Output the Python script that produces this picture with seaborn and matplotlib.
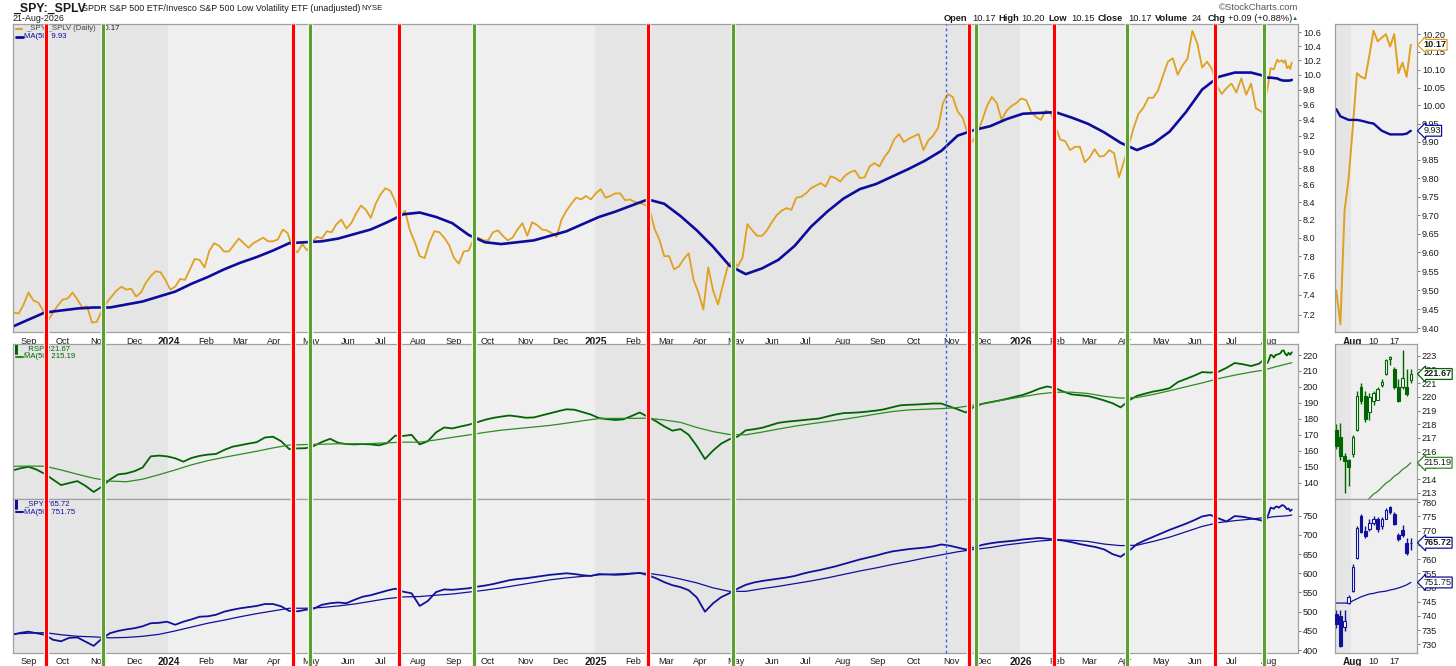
import numpy as np
import pandas as pd
import seaborn as sns
import matplotlib.pyplot as plt
from matplotlib.ticker import FixedLocator, FormatStrFormatter, NullLocator

# ---------------- data ----------------
# SPY:SPLV ratio, read every third trading day up to 22-Jul-2026
ratio_dates = pd.bdate_range("2023-08-21", periods=255, freq="3B")
ratio_3day = [
    7.22, 7.21, 7.30, 7.42, 7.34, 7.32, 7.24, 7.14, 7.22, 7.29,
    7.35, 7.36, 7.42, 7.35, 7.27, 7.28, 7.12, 7.13, 7.24, 7.32,
    7.38, 7.44, 7.48, 7.45, 7.46, 7.38, 7.42, 7.52, 7.59, 7.64,
    7.63, 7.55, 7.45, 7.48, 7.56, 7.55, 7.66, 7.77, 7.76, 7.68,
    7.86, 7.94, 7.91, 7.85, 7.85, 7.92, 7.99, 7.94, 7.89, 7.94,
    7.97, 8.00, 7.96, 7.96, 7.98, 8.09, 8.05, 7.88, 7.84, 7.93,
    7.86, 7.95, 8.01, 7.99, 8.07, 8.06, 8.15, 8.20, 8.10, 8.16,
    8.27, 8.36, 8.31, 8.22, 8.38, 8.49, 8.56, 8.53, 8.41, 8.23,
    8.30, 8.08, 7.95, 7.80, 7.78, 7.95, 8.07, 8.06, 8.00, 7.92,
    7.78, 7.72, 7.85, 7.86, 7.98, 8.00, 7.97, 7.97, 8.06, 8.08,
    8.02, 7.97, 8.00, 8.09, 8.16, 8.02, 8.17, 8.14, 8.09, 8.08,
    8.05, 8.01, 8.20, 8.30, 8.38, 8.45, 8.43, 8.47, 8.43, 8.50,
    8.55, 8.45, 8.47, 8.50, 8.50, 8.42, 8.43, 8.40, 8.39, 8.37,
    8.32, 8.10, 7.98, 7.80, 7.80, 7.66, 7.69, 7.77, 7.83, 7.55,
    7.42, 7.25, 7.68, 7.44, 7.30, 7.50, 7.69, 7.76, 7.69, 7.78,
    8.15, 8.08, 8.02, 8.02, 8.08, 8.17, 8.25, 8.30, 8.33, 8.31,
    8.45, 8.46, 8.50, 8.56, 8.59, 8.62, 8.58, 8.70, 8.68, 8.64,
    8.71, 8.75, 8.77, 8.68, 8.69, 8.82, 8.86, 8.82, 8.93, 9.01,
    9.15, 9.22, 9.12, 9.16, 9.19, 9.22, 9.02, 9.14, 9.20, 9.30,
    9.62, 9.74, 9.70, 9.51, 9.43, 9.24, 9.12, 9.23, 9.39, 9.58,
    9.70, 9.62, 9.40, 9.52, 9.58, 9.62, 9.68, 9.66, 9.51, 9.44,
    9.40, 9.52, 9.50, 9.31, 9.15, 9.13, 9.02, 9.06, 9.06, 8.87,
    8.93, 9.03, 8.94, 8.95, 9.02, 8.98, 8.69, 8.88, 9.08, 9.30,
    9.48, 9.56, 9.69, 9.69, 9.79, 9.99, 10.18, 10.23, 10.00, 10.13,
    10.22, 10.62, 10.44, 10.10, 10.18, 10.08, 9.85, 9.74, 9.82, 9.88,
    9.76, 9.95, 9.73, 9.88, 9.55,
]

# RSP and SPY weekly closes (Fridays) up to 24-Jul-2026
week_dates = pd.date_range("2023-08-18", periods=154, freq="W-FRI")
rsp_weekly = [
    147.6, 149.0, 150.0, 148.2, 145.5, 142.0, 138.5, 139.8, 141.0, 138.0,
    134.2, 137.5, 142.0, 145.2, 145.8, 147.2, 149.5, 156.5, 157.0, 156.5,
    155.3, 153.2, 155.5, 156.8, 157.6, 158.0, 160.5, 162.5, 163.5, 164.5,
    165.4, 168.3, 168.8, 166.0, 161.0, 161.5, 161.6, 163.0, 165.5, 167.5,
    165.0, 164.2, 164.0, 164.2, 164.0, 163.4, 164.8, 169.5, 169.3, 170.0,
    164.0, 166.0, 171.5, 174.6, 174.0, 175.2, 176.3, 177.8, 179.4, 180.6,
    181.4, 182.1, 181.5, 180.7, 180.9, 182.2, 183.5, 184.8, 186.0, 185.7,
    184.2, 182.7, 180.5, 179.8, 179.3, 179.7, 181.8, 184.0, 181.2, 178.5,
    175.3, 172.6, 173.6, 170.0, 163.0, 154.8, 160.2, 164.5, 167.2, 168.9,
    172.8, 173.5, 174.4, 175.9, 177.5, 178.2, 178.7, 179.2, 179.7, 180.2,
    181.5, 182.7, 183.6, 183.8, 184.1, 184.6, 185.2, 186.0, 187.3, 188.5,
    188.8, 189.0, 189.3, 189.6, 189.6, 187.8, 186.0, 184.0, 187.5, 189.4,
    190.4, 191.4, 192.5, 193.8, 195.0, 196.8, 198.9, 200.3, 199.2, 197.0,
    195.3, 194.8, 194.3, 193.0, 191.5, 189.8, 187.2, 191.5, 194.4, 195.8,
    197.1, 198.0, 199.2, 203.0, 205.0, 207.0, 209.3, 209.0, 209.5, 212.0,
    215.0, 214.2, 213.1, 214.6,
]
spy_weekly = [
    440, 445, 448, 444, 440, 427, 423, 432, 433, 422,
    411, 430, 444, 450, 454, 457, 462, 470, 471, 474,
    466, 474, 480, 487, 488, 492, 500, 505, 509, 512,
    515, 520, 520, 514, 502, 501, 505, 508, 518, 522,
    524, 522, 531, 539, 543, 549, 555, 560, 552, 548,
    515, 528, 551, 558, 557, 559, 561, 565, 568, 572,
    577, 582, 585, 587, 590, 593, 596, 598, 600, 598,
    595, 593, 598, 597, 596, 597, 599, 601, 595, 587,
    577, 569, 564, 556, 537, 500, 522, 538, 548, 560,
    570, 576, 580, 583, 586, 589, 593, 599, 604, 608,
    613, 618, 624, 630, 636, 641, 646, 652, 657, 660,
    663, 665, 667, 670, 675, 672, 667, 662, 667, 674,
    678, 681, 683, 685, 688, 690, 692, 690, 688, 685,
    681, 676, 672, 668, 662, 650, 643, 658, 676, 686,
    695, 704, 713, 721, 729, 738, 748, 752, 743, 735,
    749, 747, 743, 739,
]

# 50-day moving averages, read every second Friday up to 17-Jul-2026
ma_dates = pd.date_range("2023-08-18", periods=77, freq="2W-FRI")
ratio_ma = [
    7.08, 7.15, 7.22, 7.24, 7.26, 7.27, 7.27, 7.30, 7.33, 7.38,
    7.43, 7.51, 7.58, 7.66, 7.73, 7.79, 7.86, 7.94, 7.95, 7.96,
    7.99, 8.04, 8.09, 8.17, 8.26, 8.28, 8.23, 8.16, 8.03, 7.95,
    7.93, 7.95, 7.97, 8.02, 8.07, 8.15, 8.23, 8.29, 8.36, 8.43,
    8.38, 8.24, 8.08, 7.90, 7.70, 7.61, 7.67, 7.76, 7.91, 8.12,
    8.29, 8.44, 8.55, 8.61, 8.70, 8.79, 8.89, 9.01, 9.20, 9.27,
    9.32, 9.41, 9.48, 9.49, 9.50, 9.43, 9.35, 9.24, 9.11, 9.02,
    9.10, 9.25, 9.50, 9.80, 9.97, 10.03, 10.03,
]
rsp_ma = [
    150.3, 150.4, 150.3, 148.0, 145.3, 142.8, 141.0, 140.6, 142.2, 145.0,
    148.0, 151.2, 153.8, 155.9, 157.8, 159.7, 161.8, 163.6, 163.9, 164.1,
    164.4, 164.4, 164.5, 165.0, 165.4, 165.4, 166.8, 168.4, 169.9, 171.5,
    172.9, 173.9, 174.9, 175.9, 177.3, 178.8, 180.2, 180.3, 180.3, 180.4,
    179.3, 177.8, 174.6, 172.0, 170.2, 170.0, 171.7, 173.6, 175.4, 176.9,
    178.3, 179.7, 181.3, 183.0, 184.6, 185.6, 186.0, 186.4, 187.1, 188.6,
    190.4, 192.2, 193.9, 195.6, 196.7, 196.7, 195.9, 194.1, 193.0, 193.4,
    195.3, 197.6, 200.1, 202.5, 205.2, 207.4, 209.3,
]
spy_ma = [
    442, 444, 445.5, 440, 436, 434.5, 432, 433, 436, 441,
    450, 460, 470, 478, 487, 495, 502, 509, 509, 511,
    515, 520, 527, 534, 538.5, 539.5, 543, 546, 551, 556,
    562, 569, 576, 583, 588, 592, 596, 598, 600, 600,
    594, 585, 575, 562, 553, 553, 560, 566, 573, 580,
    588, 597, 606, 614, 623, 631, 640, 648, 656, 662,
    667, 674, 679, 684, 687, 686, 683, 676, 672, 673,
    683, 694, 708, 722, 732, 737, 741,
]

# daily values 28-Jul-2026 .. 21-Aug-2026 (the zoom panels)
day_dates = pd.bdate_range("2026-07-28", "2026-08-21")
ratio_daily = [9.50, 9.41, 9.71, 9.80, 9.94, 10.09, 10.08, 10.075, 10.14, 10.21,
               10.18, 10.19, 10.20, 10.165, 10.20, 10.09, 10.12, 10.08, 10.17]
ratio_ma_daily = [9.99, 9.97, 9.965, 9.96, 9.96, 9.96, 9.958, 9.955, 9.952, 9.95,
                  9.94, 9.93, 9.925, 9.92, 9.92, 9.92, 9.92, 9.922, 9.93]
rsp_open = [217.6, 217.1, 215.7, 215.4, 215.8, 217.6, 220.7, 220.1, 218.9, 219.7,
            219.8, 220.9, 221.7, 222.8, 222.0, 220.75, 220.75, 220.75, 221.2]
rsp_high = [218.0, 218.1, 215.9, 215.5, 217.2, 220.4, 221.0, 220.4, 220.3, 220.4,
            220.7, 221.3, 222.8, 223.0, 222.2, 221.3, 223.4, 222.0, 222.0]
rsp_low = [216.2, 215.4, 213.0, 213.5, 215.6, 217.5, 219.5, 218.2, 218.3, 219.4,
           219.8, 220.7, 221.6, 222.3, 220.6, 219.65, 220.6, 220.1, 221.0]
rsp_close = [216.4, 215.7, 215.3, 214.9, 217.1, 220.1, 219.7, 218.4, 220.0, 220.3,
             220.6, 221.1, 222.7, 222.9, 220.7, 219.7, 221.35, 220.2, 221.67]
rsp_ma_daily = [210.4, 210.7, 211.0, 211.2, 211.5, 211.8, 212.0, 212.3, 212.6, 212.9,
                213.1, 213.4, 213.7, 213.9, 214.2, 214.4, 214.7, 214.9, 215.19]
spy_open = [740.5, 739.9, 736.0, 744.5, 748.6, 760.2, 775.1, 769.8, 770.5, 772.8,
            774.0, 771.6, 774.2, 778.3, 775.9, 768.6, 770.1, 765.5, 765.6]
spy_high = [742.2, 742.2, 742.2, 747.4, 758.1, 771.5, 775.9, 771.6, 774.0, 775.0,
            774.8, 774.8, 777.9, 778.8, 776.7, 769.3, 771.9, 767.4, 767.4]
spy_low = [735.8, 729.1, 734.6, 744.0, 748.4, 760.0, 769.3, 767.4, 769.8, 772.0,
           769.5, 770.7, 774.0, 775.9, 772.1, 766.5, 767.8, 761.4, 763.1]
spy_close = [737.0, 729.4, 738.3, 746.5, 757.3, 770.9, 769.5, 768.1, 772.8, 774.0,
             770.7, 774.2, 777.4, 776.5, 772.4, 767.0, 768.6, 762.0, 765.72]
spy_ma_daily = [744.5, 744.5, 744.5, 744.5, 745.3, 746.0, 746.7, 747.2, 747.7, 747.9,
                748.3, 748.5, 748.7, 749.1, 749.4, 749.8, 750.3, 750.9, 751.75]

# signal lines
red_dates = ["2023-09-18", "2024-04-16", "2024-07-16", "2025-02-14",
             "2025-11-18", "2026-01-29", "2026-06-17"]
green_dates = ["2023-11-06", "2024-05-01", "2024-09-18", "2025-04-29",
               "2025-11-24", "2026-04-02", "2026-07-29"]
marker_date = ["2025-10-29"]

# ---------------- styling ----------------
W, H = 1456, 666
sns.set_style("white")
plt.rcParams["font.family"] = ["Liberation Sans", "DejaVu Sans"]

ORANGE = "#e0a020"
NAVY = "#0c0c9c"
DKGREEN = "#006400"
MAGREEN = "#2e8b22"
BLUE = "#10109a"
DARK_BG = "#e5e5e5"
LIGHT_BG = "#efefef"
FRAME = "#a0a0a0"
TXT = "#1a1a1a"
FS = 6.6     # tick labels
FL = 5.6     # in-panel legends

start = np.datetime64("2023-08-21")
XMAIN = (-0.5, 787.8)
XSMALL = (-0.3, 19.5)


def pos(dates):
    d = pd.to_datetime(pd.Index(dates)).values.astype("datetime64[D]")
    return np.busday_count(start, d)


def box(x0, y0, x1, y1):
    return [x0 / W, 1 - y1 / H, (x1 - x0) / W, (y1 - y0) / H]


fig = plt.figure(figsize=(W / 100, H / 100), dpi=100)


def ftext(ax, x, y, s, **kw):
    kw.setdefault("fontsize", FL)
    kw.setdefault("va", "center")
    return ax.text(x / W, 1 - y / H, s, transform=fig.transFigure, **kw)


def fline(ax, x0, x1, y, color, lw=2):
    ax.plot([x0 / W, x1 / W], [1 - y / H] * 2, transform=fig.transFigure,
            color=color, lw=lw, clip_on=False)


def style(ax, xlim):
    ax.set_xlim(*xlim)
    for s in ax.spines.values():
        s.set_color(FRAME)
        s.set_linewidth(0.9)
    ax.yaxis.tick_right()
    ax.tick_params(axis="both", which="both", length=2, pad=1.5, labelsize=FS,
                   labelcolor=TXT, color="#777777", direction="out", width=0.7)
    ax.set_xlabel("")
    ax.set_ylabel("")
    ax.grid(False)


def line(ax, x, y, color, lw):
    df = pd.DataFrame({"x": x, "y": y})
    sns.lineplot(data=df, x="x", y="y", ax=ax, color=color, lw=lw,
                 estimator=None, sort=False)


def candles(ax, o, h, l, c, color):
    o, h, l, c = map(np.asarray, (o, h, l, c))
    x = np.arange(len(o))
    ax.vlines(x, l, h, color=color, lw=1.0, zorder=2)
    fill = np.where(c >= o, "white", color)
    ax.bar(x, c - o, bottom=o, width=0.62, color=fill, edgecolor=color,
           lw=0.8, zorder=3)


# ---------------- main panels ----------------
ax_top = fig.add_axes(box(13, 24, 1298, 332))
ax_mid = fig.add_axes(box(13, 344, 1298, 498.5))
ax_bot = fig.add_axes(box(13, 498.5, 1298, 652.5))

bounds = [XMAIN[0]] + list(pos(["2024-01-01", "2025-01-01", "2026-01-01"]) - 0.5) + [XMAIN[1]]
months = pd.date_range("2023-09-01", "2026-08-01", freq="MS")
mpos = np.busday_count(start, np.busday_offset(months.values.astype("datetime64[D]"), 0, roll="forward"))
mlab = [str(m.year) if m.month == 1 else m.strftime("%b") for m in months]

for ax in (ax_top, ax_mid, ax_bot):
    for i in range(len(bounds) - 1):
        ax.axvspan(bounds[i], bounds[i + 1], color=DARK_BG if i % 2 == 0 else LIGHT_BG,
                   lw=0, zorder=0)

ax_top.set_yscale("log")
line(ax_top, pos(ratio_dates.append(day_dates)), ratio_3day + ratio_daily, ORANGE, 1.3)
line(ax_top, pos(ma_dates.append(day_dates)), ratio_ma + ratio_ma_daily, NAVY, 1.9)
line(ax_mid, pos(week_dates.append(day_dates)), rsp_weekly + rsp_close, DKGREEN, 1.3)
line(ax_mid, pos(ma_dates.append(day_dates)), rsp_ma + rsp_ma_daily, MAGREEN, 0.9)
line(ax_bot, pos(week_dates.append(day_dates)), spy_weekly + spy_close, BLUE, 1.3)
line(ax_bot, pos(ma_dates.append(day_dates)), spy_ma + spy_ma_daily, BLUE, 0.9)

for ax in (ax_top, ax_mid, ax_bot):
    style(ax, XMAIN)
    ax.xaxis.set_major_locator(FixedLocator(mpos))
    ax.xaxis.set_minor_locator(NullLocator())

ax_top.set_ylim(7.03, 10.72)
ax_top.yaxis.set_major_locator(FixedLocator(np.round(np.arange(7.2, 10.61, 0.2), 1)))
ax_top.yaxis.set_minor_locator(NullLocator())
ax_top.yaxis.set_major_formatter(FormatStrFormatter("%.1f"))
ax_mid.set_ylim(130.1, 226.9)
ax_mid.yaxis.set_major_locator(FixedLocator(np.arange(140, 221, 10)))
ax_bot.set_ylim(393.8, 794.7)
ax_bot.yaxis.set_major_locator(FixedLocator(np.arange(400, 751, 50)))

for ax in (ax_top, ax_bot):
    ax.set_xticklabels(mlab)
    for t, s in zip(ax.get_xticklabels(), mlab):
        if s.isdigit():
            t.set_fontweight("bold")
            t.set_fontsize(FS + 0.6)
ax_mid.set_xticklabels([])

# ---------------- zoom panels ----------------
sx_top = fig.add_axes(box(1335, 24, 1417, 332))
sx_mid = fig.add_axes(box(1335, 344, 1417, 498.5))
sx_bot = fig.add_axes(box(1335, 498.5, 1417, 652.5))
dx = np.arange(len(day_dates))

for ax in (sx_top, sx_mid, sx_bot):
    ax.axvspan(XSMALL[0], 3.5, color=DARK_BG, lw=0, zorder=0)
    ax.axvspan(3.5, XSMALL[1], color=LIGHT_BG, lw=0, zorder=0)

sx_top.set_yscale("log")
line(sx_top, dx, ratio_daily, ORANGE, 1.4)
line(sx_top, dx, ratio_ma_daily, NAVY, 1.7)
candles(sx_mid, rsp_open, rsp_high, rsp_low, rsp_close, DKGREEN)
line(sx_mid, dx, rsp_ma_daily, MAGREEN, 0.9)
candles(sx_bot, spy_open, spy_high, spy_low, spy_close, BLUE)
line(sx_bot, dx, spy_ma_daily, BLUE, 0.9)

for ax in (sx_top, sx_mid, sx_bot):
    style(ax, XSMALL)
    ax.xaxis.set_major_locator(FixedLocator([4, 9, 14]))
    ax.xaxis.set_minor_locator(NullLocator())

sx_top.set_ylim(9.39, 10.229)
sx_top.yaxis.set_major_locator(FixedLocator(np.round(np.arange(9.40, 10.201, 0.05), 2)))
sx_top.yaxis.set_minor_locator(NullLocator())
sx_top.yaxis.set_major_formatter(FormatStrFormatter("%.2f"))
sx_mid.set_ylim(212.58, 223.86)
sx_mid.yaxis.set_major_locator(FixedLocator(np.arange(213, 224, 1)))
sx_bot.set_ylim(727.1, 781.3)
sx_bot.yaxis.set_major_locator(FixedLocator(np.arange(730, 781, 5)))

for ax in (sx_top, sx_bot):
    ax.set_xticklabels(["Aug", "10", "17"])
    ax.get_xticklabels()[0].set_fontweight("bold")
    ax.get_xticklabels()[0].set_fontsize(FS + 0.6)
sx_mid.set_xticklabels([])


def tag(ax, y, s, color, bold=False):
    # value tag with a white box that sits over the tick labels, as on the source
    ax.text(1.075, y, s, transform=ax.get_yaxis_transform(), fontsize=FS,
            fontweight="bold" if bold else "normal", color=TXT, va="center", ha="left",
            bbox=dict(boxstyle="larrow,pad=0.1", fc="white", ec=color, lw=0.9), zorder=5)


tag(sx_top, ratio_daily[-1], f"{ratio_daily[-1]:.2f}", ORANGE, True)
tag(sx_top, ratio_ma_daily[-1], f"{ratio_ma_daily[-1]:.2f}", NAVY)
tag(sx_mid, rsp_close[-1], f"{rsp_close[-1]:.2f}", DKGREEN, True)
tag(sx_mid, rsp_ma_daily[-1], f"{rsp_ma_daily[-1]:.2f}", MAGREEN)
tag(sx_bot, spy_close[-1], f"{spy_close[-1]:.2f}", BLUE, True)
tag(sx_bot, spy_ma_daily[-1], f"{spy_ma_daily[-1]:.2f}", BLUE)

# ---------------- panel legends ----------------
fline(ax_top, 16, 22, 29, ORANGE, 1.5)
ftext(ax_top, 26, 29, "_SPY:_SPLV (Daily)", color="#444444")
ftext(ax_top, 100.5, 29, f"{ratio_daily[-1]:.2f}", color=TXT)
fline(ax_top, 16, 23, 37, NAVY, 2)
ftext(ax_top, 24, 37, f"MA(50) {ratio_ma_daily[-1]:.2f}", color=NAVY)

ftext(ax_mid, 15, 349, "\u258c", color=DKGREEN, fontsize=6)
ftext(ax_mid, 24, 349, f"_RSP {rsp_close[-1]:.2f}", color=DKGREEN)
fline(ax_mid, 16, 23, 357, MAGREEN, 1.5)
ftext(ax_mid, 24, 357, f"MA(50) {rsp_ma_daily[-1]:.2f}", color=DKGREEN)

ftext(ax_bot, 15, 504, "\u258c", color=BLUE, fontsize=6)
ftext(ax_bot, 24, 504, f"_SPY {spy_close[-1]:.2f}", color=BLUE)
fline(ax_bot, 16, 23, 512, BLUE, 1.5)
ftext(ax_bot, 24, 512, f"MA(50) {spy_ma_daily[-1]:.2f}", color=BLUE)

# ---------------- header ----------------
fig.text(13 / W, 1 - 9 / H, "_SPY:_SPLV", fontsize=8.8, fontweight="bold", va="center", color=TXT)
fig.text(82 / W, 1 - 8.5 / H, "SPDR S&P 500 ETF/Invesco S&P 500 Low Volatility ETF (unadjusted)",
         fontsize=6.4, va="center", color=TXT)
fig.text(361 / W, 1 - 9 / H, "NYSE", fontsize=5.6, va="center", color=TXT)
fig.text(13 / W, 1 - 18.5 / H, "21-Aug-2026", fontsize=6.4, va="center", color=TXT)
fig.text(1298 / W, 1 - 8 / H, "\u00a9StockCharts.com", fontsize=6.8, va="center", ha="right", color="#555555")
quote = [("Open", 944, True), ("10.17", 972, False), ("High", 998, True), ("10.20", 1021, False),
         ("Low", 1048, True), ("10.15", 1071, False), ("Close", 1098, True), ("10.17", 1128, False),
         ("Volume", 1155, True), ("24", 1192, False), ("Chg", 1208, True),
         ("+0.09 (+0.88%)", 1228, False)]
for s, x, b in quote:
    fig.text(x / W, 1 - 18.5 / H, s, fontsize=6.7, va="center", color=TXT,
             fontweight="bold" if b else "normal")
fig.text(1292 / W, 1 - 18.5 / H, "\u25b2", fontsize=4.5, va="center", color="#2a7a2a")

# ---------------- signal lines across the main panels ----------------
ov = fig.add_axes(box(13, 24, 1298, 666))
ov.set_xlim(*XMAIN)
ov.set_ylim(0, 1)
ov.axis("off")
ov.patch.set_alpha(0)
for dates, color in ((red_dates, "#ff0000"), (green_dates, "#5da032")):
    ov.vlines(pos(dates), 0, 1, color="white", lw=3.8)
    ov.vlines(pos(dates), 0, 1, color=color, lw=2.3)
ov.vlines(pos(marker_date), (666 - 652.5) / 642, 1, color="#3366ee", lw=1.0,
          linestyles=(0, (2, 2)))

fig.savefig("out.png", dpi=100)
